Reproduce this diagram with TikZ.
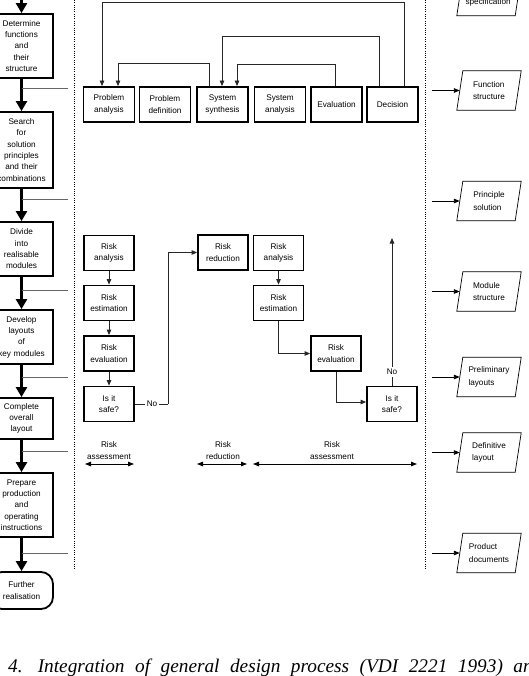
\documentclass[tikz,border=0pt]{standalone}
\usepackage{fontspec}
\setmainfont{Liberation Sans}
\newfontfamily\capfont{Liberation Serif}
\usetikzlibrary{arrows.meta,calc}
\newcommand\dgfont{\fontsize{8.2}{11.3}\selectfont}
\newcommand\docfont{\fontsize{8.2}{12.5}\selectfont}
\begin{document}
\begin{tikzpicture}[x=1pt,y=-1pt,
  lbox/.style={draw, line width=1.8pt, text width=61pt, inner sep=1pt, align=center, font=\dgfont},
  tbox/.style={draw, line width=1.8pt, minimum width=51pt, minimum height=35pt, inner sep=1pt, align=center, font=\dgfont},
  rbox/.style={draw, line width=1.8pt, minimum width=50pt, minimum height=35pt, inner sep=1pt, align=center, font=\dgfont},
  dbox/.style={minimum width=58pt, minimum height=39pt, inner sep=0pt, align=left, font=\docfont},
  lbl/.style={font=\dgfont, align=center, inner sep=2pt},
  bigarrow/.style={line width=2.4pt, -{Triangle[width=11pt,length=10pt]}},
  branch/.style={line width=1pt, black!60},
  fb/.style={line width=0.8pt, black!85, -{Triangle[width=4.5pt,length=5.5pt]}},
  thin/.style={line width=0.8pt, black!85},
  dbl/.style={line width=0.9pt, {Triangle[width=4.5pt,length=6pt]}-{Triangle[width=4.5pt,length=6pt]}},
  docarrow/.style={line width=0.9pt, -{Triangle[width=4.5pt,length=6pt]}},
  dotline/.style={line width=0.8pt, dash pattern=on 0.9pt off 1.4pt}
]
\useasboundingbox (0,0) rectangle (529,676);

% ---------------- left column ----------------
\node[lbox, minimum height=64pt] (det) at (21.5,46) {Determine\\functions\\and\\their\\structure};
\node[lbox, minimum height=76pt] (search) at (21.5,150) {Search\\for\\solution\\principles\\and their\\combinations};
\node[lbox, minimum height=54pt] (divide) at (21.5,249) {Divide\\into\\realisable\\modules};
\node[lbox, minimum height=54pt] (develop) at (21.5,337) {Develop\\layouts\\of\\key modules};
\node[lbox, minimum height=41pt] (complete) at (21.5,418.5) {Complete\\overall\\layout};
\node[lbox, minimum height=64pt] (prepare) at (21.5,505) {Prepare\\production\\and\\operating\\instructions};
\node[lbox, rounded corners=12pt, minimum height=37pt] (further) at (21.5,590.5) {Further\\realisation};

\coordinate (top) at (21.5,-3);
\draw[bigarrow] (top) -- (det.north);
\draw[bigarrow] (det.south) -- (search.north);
\draw[bigarrow] (search.south) -- (divide.north);
\draw[bigarrow] (divide.south) -- (develop.north);
\draw[bigarrow] (develop.south) -- (complete.north);
\draw[bigarrow] (complete.south) -- (prepare.north);
\draw[bigarrow] (prepare.south) -- (further.north);

\coordinate (b1) at (68,89);
\coordinate (b2) at (68,200);
\coordinate (b3) at (68,290);
\coordinate (b4) at (68,377);
\coordinate (b5) at (68,451);
\coordinate (b6) at (68,553);
\foreach \b in {b1,b2,b3,b4,b5,b6} \draw[branch] (det.south |- \b) -- (\b);

% dotted separators
\coordinate (d1a) at (74,0);   \coordinate (d1b) at (74,570);
\coordinate (d2a) at (425,0);  \coordinate (d2b) at (425,570);
\draw[dotline] (d1a) -- (d1b);
\draw[dotline] (d2a) -- (d2b);

% ---------------- top row ----------------
\node[tbox] (pa) at (109,104.5) {Problem\\analysis};
\node[tbox] (pd) at (165,104.5) {Problem\\definition};
\node[tbox] (ss) at (222.5,104.5) {System\\synthesis};
\node[tbox] (sa) at (280,104.5) {System\\analysis};
\node[tbox] (ev) at (336.5,104.5) {Evaluation};
\node[tbox] (de) at (392.5,104.5) {Decision};

\draw[fb] ([xshift=11.5pt]de.north) -- ++(0,-84) -| ([xshift=-7pt]pa.north);
\draw[fb] ([xshift=-13.5pt]de.north) -- ++(0,-50) -| ([xshift=-0.5pt]ss.north);
\draw[fb] ([xshift=-13.5pt]ss.north) -- ++(0,-23) -| ([xshift=9pt]pa.north);
\draw[fb] ([xshift=-1.5pt]ev.north) -- ++(0,-22) -| ([xshift=14.5pt]ss.north);

% ---------------- risk section ----------------
\node[rbox] (ra1) at (109,253) {Risk\\analysis};
\node[rbox] (re1) at (109,303) {Risk\\estimation};
\node[rbox] (rv1) at (109,353.5) {Risk\\evaluation};
\node[rbox] (sf1) at (109,404) {Is it\\safe?};
\node[rbox] (rr) at (223,252.5) {Risk\\reduction};
\node[rbox] (ra2) at (278.5,253) {Risk\\analysis};
\node[rbox] (re2) at (278.5,303) {Risk\\estimation};
\node[rbox] (rv2) at (336,353.5) {Risk\\evaluation};
\node[rbox] (sf2) at (392,404) {Is it\\safe?};

\draw[fb] (ra1) -- (re1);
\draw[fb] (re1) -- (rv1);
\draw[fb] (rv1) -- (sf1);
\draw[fb] (ra2) -- (re2);
\draw[fb] (re2.south) |- (rv2.west);
\draw[fb] (rv2.south) |- ([yshift=2pt]sf2.west);

\node[lbl] (no1) at (152,404) {No};
\draw[thin] (sf1.east) -- (no1.west);
\coordinate (nc) at (168,404);
\draw[thin] (no1.east) -- (nc);
\draw[fb] (nc) |- (rr.west);

\node[lbl] (no2) at (392,372) {No};
\coordinate (up) at (392,238);
\draw[thin] (sf2.north) -- (no2.south);
\draw[fb] (no2.north) -- (up);

% phase labels
\node[lbl] (la1) at (109,450.5) {Risk\\assessment};
\node[lbl] (la2) at (223,450.5) {Risk\\reduction};
\node[lbl] (la3) at (332,450.5) {Risk\\assessment};
\coordinate (a1l) at (85,464);  \coordinate (a1r) at (134,464);
\coordinate (a2l) at (197,464); \coordinate (a2r) at (247,464);
\coordinate (a3l) at (253,464); \coordinate (a3r) at (417,464);
\draw[dbl] (a1l) -- (a1r);
\draw[dbl] (a2l) -- (a2r);
\draw[dbl] (a3l) -- (a3r);

% ---------------- documents ----------------
\node[dbox] (req) at (489,-4) {Requirement\\specification};
\node[dbox] (fs) at (489,90.5) {Function\\structure};
\node[dbox] (ps) at (489,201) {Principle\\solution};
\node[dbox] (ms) at (489,291.5) {Module\\structure};
\node[dbox] (pl) at (489,377) {Preliminary\\layouts};
\node[dbox] (dl) at (489,452.5) {Definitive\\layout};
\node[dbox] (pdoc) at (489,553) {Product\\documents};
\foreach \n in {req,fs,ps,ms,pl,dl,pdoc}
  \draw[line width=0.7pt] ([xshift=-3pt]\n.south west) -- ([xshift=3pt]\n.north west) -- ([xshift=3pt]\n.north east) -- ([xshift=-3pt]\n.south east) -- cycle;

\foreach \n in {fs,ps,ms,pl,dl,pdoc} {
  \coordinate (s\n) at (432,0);
  \draw[docarrow] (s\n |- \n.west) -- (\n.west);
}

% ---------------- caption ----------------
\node[anchor=base west, inner sep=0pt, font=\capfont\itshape\fontsize{19.3}{22}\selectfont] (cap) at (8,672)
  {\spaceskip=10.5pt\relax 4.\hspace{3pt} Integration of general design process (VDI 2221 1993) and};
\end{tikzpicture}
\end{document}
